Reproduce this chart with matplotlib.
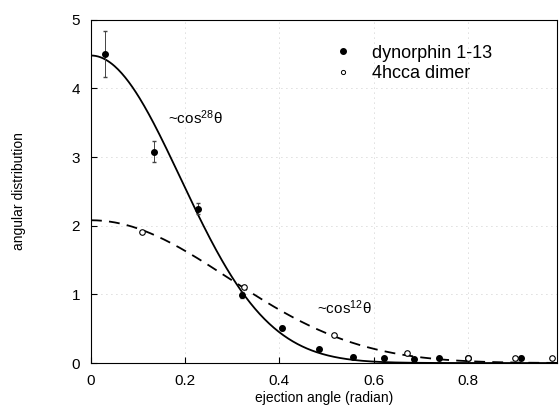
import numpy as np
import matplotlib
matplotlib.use("Agg")
import matplotlib.pyplot as plt
from matplotlib.lines import Line2D

plt.rcParams['font.family'] = ['Liberation Sans', 'DejaVu Sans']
plt.rcParams['mathtext.fontset'] = 'custom'
plt.rcParams['mathtext.rm'] = 'Liberation Sans'
plt.rcParams['mathtext.it'] = 'Liberation Sans'

# dynorphin 1-13 data (filled)
dyn_x = [0.03, 0.133, 0.227, 0.32, 0.406, 0.485, 0.557, 0.623, 0.685, 0.738, 0.80, 0.913]
dyn_y = [4.50, 3.08, 2.25, 0.99, 0.51, 0.20, 0.09, 0.07, 0.06, 0.07, 0.08, 0.08]
dyn_err = [0.33, 0.15, 0.08, 0.04, 0.03, 0.02, 0.02, 0.02, 0.02, 0.02, 0.02, 0.02]

# 4hcca dimer data (open)
hc_x = [0.108, 0.324, 0.517, 0.672, 0.80, 0.90, 0.98]
hc_y = [1.91, 1.11, 0.41, 0.15, 0.08, 0.08, 0.08]

# fit curves: A * cos^n(theta)
fit_dyn_A, fit_dyn_n = 4.48, 28
fit_hc_A, fit_hc_n = 2.08, 12

x_ticks = [0, 0.2, 0.4, 0.6, 0.8]
x_ticklabels = ['0', '0.2', '0.4', '0.6', '0.8']
y_ticks = [0, 1, 2, 3, 4, 5]

fig = plt.figure(figsize=(5.6, 4.13), dpi=100)
ax = fig.add_axes([0.1625, 0.121, 0.8325, 0.831])

th = np.linspace(0, 1.0, 400)
ax.plot(th, fit_dyn_A * np.cos(th) ** fit_dyn_n, color='black', lw=1.3, zorder=3)
ax.plot(th, fit_hc_A * np.cos(th) ** fit_hc_n, color='black', lw=1.3,
        dashes=(6, 4), zorder=3)

ax.errorbar(dyn_x, dyn_y, yerr=dyn_err, fmt='o', color='black', ms=4,
            ecolor='#444444', elinewidth=0.7, capsize=1.5, ls='none', zorder=4)
ax.plot(hc_x, hc_y, 'o', ls='none', mfc='white', mec='black', ms=4, mew=0.8,
        zorder=5)

ax.text(0.164, 3.57, r'~cos$^{28}\theta$', fontsize=11, va='center', ha='left')
ax.text(0.479, 0.80, r'~cos$^{12}\theta$', fontsize=11, va='center', ha='left')

ax.set_xlim(0, 0.99)
ax.set_ylim(0, 5)
ax.set_xticks(x_ticks)
ax.set_xticklabels(x_ticklabels)
ax.set_yticks(y_ticks)
ax.tick_params(direction='in', labelsize=11, length=4, pad=8)
ax.grid(True, color='#bbbbbb', ls=(0, (1, 5)), lw=0.6)

ax.set_xlabel('ejection angle (radian)', fontsize=10, labelpad=2)
ax.set_ylabel('angular distribution', fontsize=10, labelpad=33)

handles = [Line2D([], [], marker='o', ls='none', color='black', ms=4),
           Line2D([], [], marker='o', ls='none', mfc='white', mec='black', ms=3, mew=0.7)]
ax.legend(handles, ['dynorphin 1-13', '4hcca dimer'], loc='upper right',
          bbox_to_anchor=(0.895, 0.975), frameon=False, fontsize=13,
          handletextpad=1.2, labelspacing=0.2, handlelength=0.8)

fig.savefig('out.png', dpi=100)
